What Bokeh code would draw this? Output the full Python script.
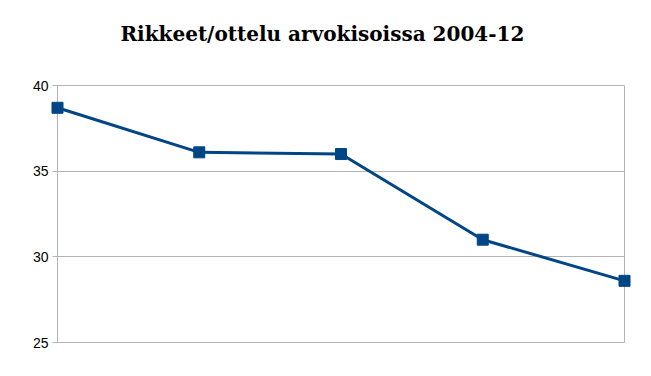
from bokeh.plotting import figure
from bokeh.models import FixedTicker, Range1d
from bokeh.embed import file_html
from bokeh.resources import INLINE

tournaments = ["EM 2004", "MM 2006", "EM 2008", "MM 2010", "EM 2012"]
fouls_per_match = [38.7, 36.1, 36.0, 31.0, 28.6]
y_ticks = [25, 30, 35, 40]
title_text = "Rikkeet/ottelu arvokisoissa 2004-12"

xs = list(range(len(tournaments)))

p = figure(width=643, height=368, output_backend="svg", toolbar_location=None,
           x_range=Range1d(0, len(tournaments) - 1), y_range=Range1d(25, 40),
           min_border_left=57, min_border_right=19, min_border_top=85, min_border_bottom=26)

# trailing blank line lifts the title towards the top of the border area
p.title.text = title_text + "\n "
p.title.align = "left"
p.title.text_font = "DejaVu Serif"
p.title.text_font_style = "bold"
p.title.text_font_size = "20px"
p.title.text_color = "#000000"
p.title.standoff = 32
p.title.offset = 63

p.line(xs, fouls_per_match, line_color="#004586", line_width=3)
r = p.scatter(xs, fouls_per_match, marker="square", size=11, fill_color="#004586", line_color="#004586")
r.level = "overlay"

p.outline_line_color = "#b3b3b3"
p.xgrid.grid_line_color = None
p.ygrid.grid_line_color = "#b3b3b3"
p.ygrid.ticker = FixedTicker(ticks=y_ticks)

p.yaxis.ticker = FixedTicker(ticks=y_ticks)
p.yaxis.axis_line_color = "#b3b3b3"
p.yaxis.major_tick_line_color = "#b3b3b3"
p.yaxis.major_tick_out = 5
p.yaxis.major_tick_in = 0
p.yaxis.minor_tick_line_color = None
p.yaxis.major_label_text_font = "Liberation Sans"
p.yaxis.major_label_text_font_size = "14px"
p.yaxis.major_label_text_color = "#000000"
p.yaxis.major_label_standoff = 4

p.xaxis.ticker = FixedTicker(ticks=[])
p.xaxis.axis_line_color = "#b3b3b3"
p.xaxis.major_tick_line_color = None
p.xaxis.minor_tick_line_color = None

open("out.html", "w").write(file_html(p, INLINE))
